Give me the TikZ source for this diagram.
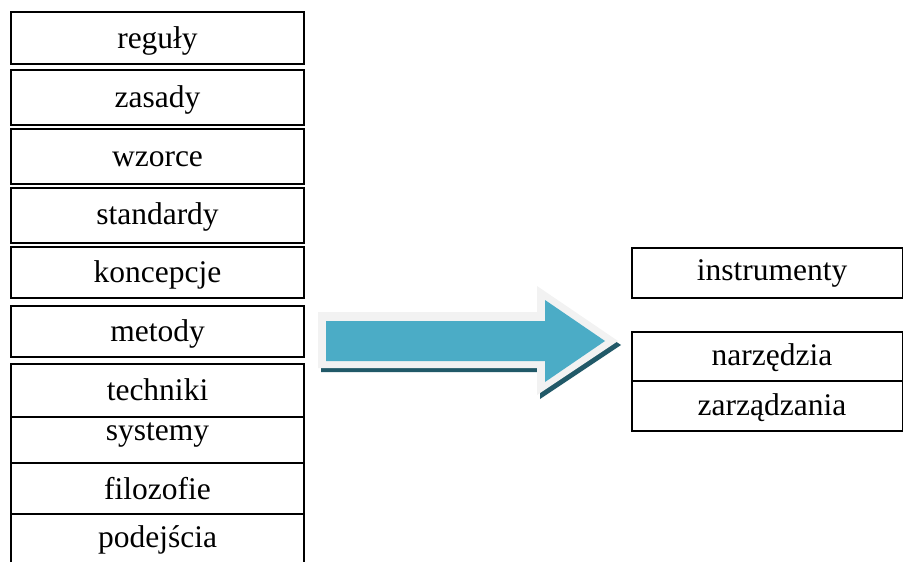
\documentclass[tikz,border=0pt]{standalone}
\usepackage{fontspec}
\setmainfont{Liberation Serif}
\definecolor{arrowblue}{RGB}{75,172,198}
\definecolor{arrowrim}{RGB}{242,242,242}
\definecolor{arrowshadow}{RGB}{33,89,104}
\begin{document}
\begin{tikzpicture}[x=1pt,y=-1pt,
  lbl/.style={anchor=base,inner sep=0pt,font=\fontsize{31.5}{36}\selectfont},
  boxa/.style={draw=black,line width=1.8pt},
  boxb/.style={draw=black,line width=1.2pt}]
\useasboundingbox (0,0) rectangle (904,562);
% upper left boxes
\foreach \t/\b in {12/64,70/125,129/184,188/243,247/298,306/357}{
  \draw[boxa] (11,\t) rectangle (304,\b);
}
\node[lbl] (r1) at (157.5,48) {reguły};
\node[lbl] (r2) at (157.5,107) {zasady};
\node[lbl] (r3) at (157.5,166) {wzorce};
\node[lbl] (r4) at (157.5,224) {standardy};
\node[lbl] (r5) at (157.5,282) {koncepcje};
\node[lbl] (r6) at (157.5,341) {metody};
% lower group
\draw[boxb] (11,562) -- (11,364) -- (304,364) -- (304,562);
\draw[boxb] (11,417) -- (304,417);
\draw[boxb] (11,463) -- (304,463);
\draw[boxb] (11,514) -- (304,514);
\node[lbl] (r7) at (157.5,400) {techniki};
\node[lbl] (r8) at (157.5,440) {systemy};
\node[lbl] (r9) at (157.5,499) {filozofie};
\node[lbl] (r10) at (157.5,547) {podejścia};
% arrow
\fill[arrowshadow] (321,316) -- (540,316) -- (540,290) -- (621,345) -- (540,399) -- (540,372) -- (321,372) -- cycle;
\fill[arrowrim] (318,312) -- (537,312) -- (537,286) -- (618,341) -- (537,395) -- (537,368) -- (318,368) -- cycle;
\fill[arrowblue] (326,321) -- (545,321) -- (545,300) -- (605,341) -- (545,382) -- (545,361) -- (326,361) -- cycle;
% right boxes
\draw[boxb] (632,248) rectangle (902.5,298);
\draw[boxb] (632,332) rectangle (902.5,431);
\draw[boxb] (632,381) -- (902.5,381);
\node[lbl] (q1) at (772,280) {instrumenty};
\node[lbl] (q2) at (772,365) {narzędzia};
\node[lbl] (q3) at (772,415) {zarządzania};
\end{tikzpicture}
\end{document}
